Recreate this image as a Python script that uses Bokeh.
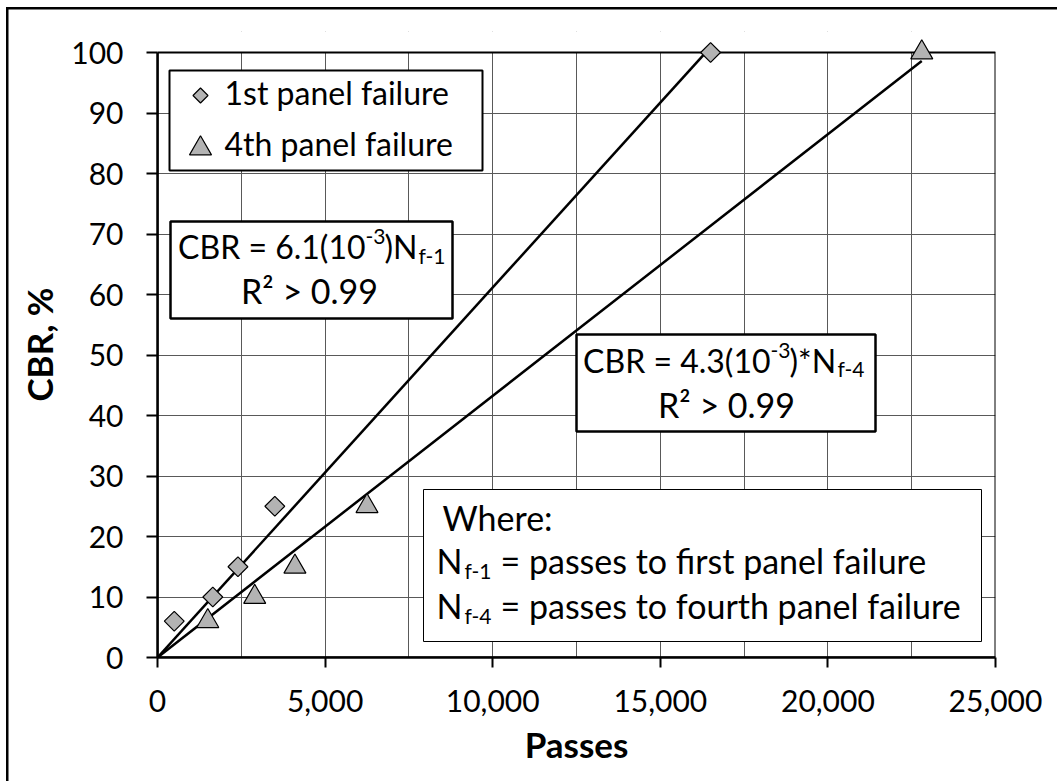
import numpy as np
from bokeh.plotting import figure
from bokeh.models import (BoxAnnotation, Label, FixedTicker, NumeralTickFormatter, Range1d)
from bokeh.embed import file_html
from bokeh.resources import INLINE

# ---------------- data ----------------
series_names = ["1st panel failure", "4th panel failure"]
first_passes = [500, 1650, 2400, 3500, 16500]
first_cbr = [6, 10, 15, 25, 100]
fourth_passes = [1500, 2900, 4100, 6250, 22800]
fourth_cbr = [6, 10, 15, 25, 100]
x_ticks = [0, 5000, 10000, 15000, 20000, 25000]
x_grid_ticks = [0, 2500, 5000, 7500, 10000, 12500, 15000, 17500, 20000, 22500, 25000]
y_ticks = [0, 10, 20, 30, 40, 50, 60, 70, 80, 90, 100]

# ---------------- layout ----------------
W, H = 1057, 781
FL, FR, FT, FB = 157, 995, 31, 657
TOP100 = 52                      # pixel row of CBR = 100
X0, X1 = 0, 25000
Y0, YMAX = 0, 100
Y1 = YMAX * (FB - FT) / (FB - TOP100)   # a little headroom so top markers are not cut
FONT = "Lato"
GREY = "#b3b3b3"
TXT_SHIFT = 13                   # empirical baseline correction for Label text


def dx(px):
    return X0 + (px - FL) / (FR - FL) * (X1 - X0)


def dy(py):
    return Y0 + (FB - py) / (FB - FT) * (Y1 - Y0)


p = figure(width=W, height=H, output_backend="svg", toolbar_location=None,
           x_range=Range1d(X0, X1), y_range=Range1d(Y0, Y1),
           min_border_left=FL, min_border_right=W - FR,
           min_border_top=FT, min_border_bottom=H - FB)
p.background_fill_color = "white"
p.border_fill_alpha = 0
p.outline_line_color = None

# outer chart frame (left and top edges; the others lie outside the window)
p.styles = {"background-color": "white",
            "box-shadow": "inset 6px 7px 0 0 white, inset 8.5px 9.5px 0 0 black"}

# grids
p.xgrid.ticker = FixedTicker(ticks=x_grid_ticks)
p.ygrid.ticker = FixedTicker(ticks=y_ticks)
for g in (p.xgrid, p.ygrid):
    g.grid_line_color = "#595959"
    g.grid_line_width = 1

# hide the headroom above CBR = 100 and draw the plot-area border
p.add_layout(BoxAnnotation(bottom=YMAX, fill_color="white", fill_alpha=1,
                           line_alpha=0, level="underlay"))
p.add_layout(BoxAnnotation(left=X0, right=X1, bottom=Y0, top=YMAX,
                           fill_alpha=0, line_color="black", line_alpha=1,
                           line_width=2, level="underlay"))

# axes
p.xaxis.ticker = FixedTicker(ticks=x_ticks)
p.yaxis.ticker = FixedTicker(ticks=y_ticks)
p.yaxis.bounds = (Y0, YMAX)
p.xaxis.formatter = NumeralTickFormatter(format="0,0")
for ax in (p.xaxis, p.yaxis):
    ax.axis_line_color = "black"
    ax.axis_line_width = 2.5
    ax.major_tick_line_color = "black"
    ax.major_tick_line_width = 2
    ax.major_tick_in = 0
    ax.minor_tick_line_color = None
    ax.major_label_text_font = FONT
    ax.major_label_text_font_size = "30px"
    ax.major_label_text_color = "black"
    ax.axis_label_text_font = FONT
    ax.axis_label_text_font_style = "bold"
    ax.axis_label_text_font_size = "35px"
    ax.axis_label_text_color = "black"
p.xaxis.major_tick_out = 10
p.yaxis.major_tick_out = 11
p.xaxis.major_label_standoff = 22
p.yaxis.major_label_standoff = 23
p.xaxis.axis_label = "Passes"
p.yaxis.axis_label = "CBR, %"
p.xaxis.axis_label_standoff = 8
p.yaxis.axis_label_standoff = 8

# trend lines through the origin (least squares fit)
fx = np.array(first_passes, float); fy = np.array(first_cbr, float)
gx = np.array(fourth_passes, float); gy = np.array(fourth_cbr, float)
k1 = (fx * fy).sum() / (fx * fx).sum()
k4 = (gx * gy).sum() / (gx * gx).sum()
p.line([0, fx.max()], [0, k1 * fx.max()], line_color="black", line_width=2.5)
p.line([0, gx.max()], [0, k4 * gx.max()], line_color="black", line_width=2.5)

# data markers
p.scatter(first_passes, first_cbr, marker="square", angle=np.pi / 4, size=14,
          fill_color=GREY, line_color="black", line_width=1.2)
p.scatter(fourth_passes, fourth_cbr, marker="triangle", size=22,
          fill_color=GREY, line_color="black", line_width=1.2)


def box(l, t, r, b, lw, level="annotation"):
    p.add_layout(BoxAnnotation(left=dx(l), right=dx(r), top=dy(t), bottom=dy(b),
                               fill_color="white", fill_alpha=1.0,
                               line_color="black", line_alpha=1.0,
                               line_width=lw, level=level))


def label(px, py, text, size, align="left", style="normal"):
    p.add_layout(Label(x=dx(px), y=dy(py - TXT_SHIFT), text=text, text_font=FONT,
                       text_font_size=size, text_align=align,
                       text_baseline="alphabetic", text_color="black",
                       text_font_style=style))


# legend (manual)
box(169, 70, 482, 170, 2, level="underlay")
p.scatter([dx(200)], [dy(95)], marker="square", angle=np.pi / 4, size=10.6,
          fill_color=GREY, line_color="black", line_width=1.2)
p.scatter([dx(200)], [dy(148)], marker="triangle", size=22,
          fill_color=GREY, line_color="black", line_width=1.2)
label(224, 105, series_names[0], "32px")
label(224, 156, series_names[1], "32px")

BIG, BIG2, SMALL = "32px", "34px", "21px"

# equation box 1
box(170, 221, 452, 318, 2.5)
label(365, 259, "CBR = 6.1(10", BIG, align="right")
label(365, 249, "-3", SMALL)
label(384, 259, ")N", BIG)
label(418, 268, "f-1", SMALL)
label(309, 303, "R\u00b2 > 0.99", BIG2, align="center")

# equation box 2
box(576, 334, 875, 431, 2.5)
label(770, 373, "CBR = 4.3(10", BIG, align="right")
label(770, 363, "-3", SMALL)
label(789, 373, ")*N", BIG)
label(837, 381, "f-4", SMALL)
label(726, 417, "R\u00b2 > 0.99", BIG2, align="center")

# where box
WB = "34px"
box(423, 489, 981, 641, 1)
label(442, 530, "Where:", WB)
label(462, 573, "N", WB, align="right")
label(464, 583, "f-1", SMALL)
label(500, 573, "= passes to first panel failure", WB)
label(462, 618, "N", WB, align="right")
label(464, 628, "f-4", SMALL)
label(500, 618, "= passes to fourth panel failure", WB)

open("out.html", "w").write(file_html(p, INLINE))
